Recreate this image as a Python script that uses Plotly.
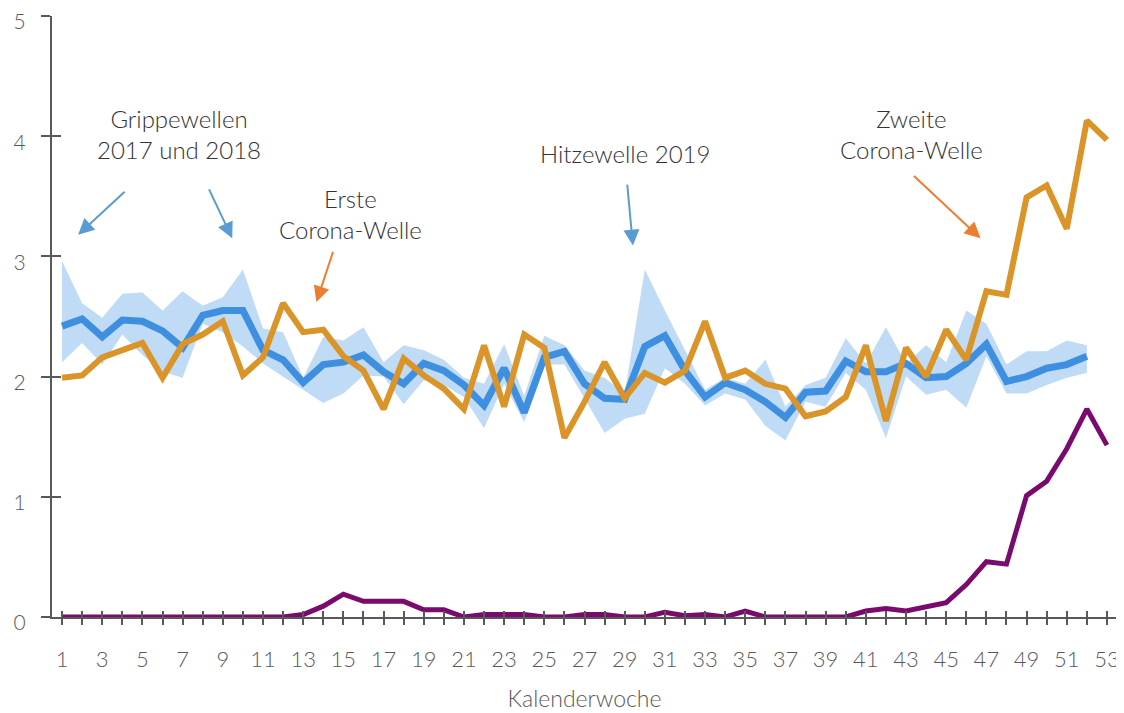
import plotly.graph_objects as go

weeks = list(range(1, 54))
weeks_hist = list(range(1, 53))

mean_hist = [2.42, 2.48, 2.33, 2.47, 2.46, 2.38, 2.24, 2.51, 2.55, 2.55,
             2.22, 2.14, 1.95, 2.10, 2.12, 2.18, 2.04, 1.94, 2.11, 2.05,
             1.93, 1.76, 2.07, 1.70, 2.16, 2.21, 1.94, 1.82, 1.81, 2.25,
             2.34, 2.05, 1.83, 1.95, 1.89, 1.79, 1.66, 1.87, 1.88, 2.13,
             2.04, 2.04, 2.11, 1.99, 2.00, 2.11, 2.27, 1.96, 2.00, 2.07,
             2.10, 2.17]
upper_hist = [2.96, 2.61, 2.49, 2.69, 2.70, 2.55, 2.71, 2.59, 2.66, 2.89,
              2.40, 2.37, 1.99, 2.33, 2.30, 2.41, 2.12, 2.26, 2.22, 2.14,
              1.99, 1.94, 2.27, 1.84, 2.34, 2.26, 2.05, 1.99, 1.86, 2.89,
              2.55, 2.22, 1.89, 1.99, 1.94, 2.14, 1.75, 1.93, 1.99, 2.32,
              2.11, 2.41, 2.11, 2.26, 2.12, 2.55, 2.44, 2.10, 2.21, 2.21,
              2.30, 2.26]
lower_hist = [2.12, 2.28, 2.10, 2.35, 2.18, 2.04, 1.99, 2.44, 2.37, 2.25,
              2.11, 2.00, 1.89, 1.78, 1.86, 2.01, 2.00, 1.77, 1.97, 1.93,
              1.83, 1.57, 1.94, 1.62, 2.10, 2.10, 1.82, 1.53, 1.65, 1.69,
              2.07, 1.94, 1.76, 1.86, 1.81, 1.59, 1.47, 1.79, 1.75, 2.03,
              1.89, 1.49, 2.00, 1.85, 1.89, 1.74, 2.17, 1.86, 1.86, 1.93,
              1.99, 2.03]
total_2020 = [1.99, 2.01, 2.16, 2.22, 2.28, 1.99, 2.27, 2.35, 2.46, 2.01,
              2.16, 2.61, 2.37, 2.39, 2.17, 2.05, 1.73, 2.15, 2.01, 1.90,
              1.73, 2.26, 1.75, 2.35, 2.24, 1.49, 1.79, 2.12, 1.82, 2.03,
              1.95, 2.05, 2.46, 1.99, 2.05, 1.94, 1.90, 1.67, 1.71, 1.83,
              2.26, 1.63, 2.24, 2.00, 2.39, 2.14, 2.71, 2.68, 3.49, 3.59,
              3.23, 4.13, 3.97]
covid_2020 = [0, 0, 0, 0, 0, 0, 0, 0, 0, 0,
              0, 0, 0.02, 0.09, 0.19, 0.13, 0.13, 0.13, 0.06, 0.06,
              0, 0.02, 0.02, 0.02, 0, 0, 0.02, 0.02, 0, 0,
              0.04, 0.01, 0.02, 0, 0.05, 0, 0, 0, 0, 0,
              0.05, 0.07, 0.05, 0.09, 0.12, 0.27, 0.46, 0.44, 1.01, 1.13,
              1.40, 1.73, 1.43]

x_ticks = weeks + [53.5]
x_ticktext = [str(w) if w % 2 == 1 else "" for w in weeks] + [""]
y_ticks = [0, 1, 2, 3, 4, 5]

FONT = "Lato"
AX = "#595959"

fig = go.Figure()
fig.add_trace(go.Scatter(x=weeks_hist, y=lower_hist, mode="lines",
                         line=dict(width=0, color="#BFDBF5"), hoverinfo="skip"))
fig.add_trace(go.Scatter(x=weeks_hist, y=upper_hist, mode="lines",
                         line=dict(width=0, color="#BFDBF5"), fill="tonexty",
                         fillcolor="#BFDBF5", hoverinfo="skip"))
fig.add_trace(go.Scatter(x=weeks_hist, y=mean_hist, mode="lines",
                         line=dict(width=7, color="#3F8FE0")))
fig.add_trace(go.Scatter(x=weeks, y=total_2020, mode="lines",
                         line=dict(width=6, color="#DA9428")))
fig.add_trace(go.Scatter(x=weeks, y=covid_2020, mode="lines",
                         line=dict(width=5, color="#7B0A6E")))
# helper traces so the overlay axes (crossing ticks) are drawn
fig.add_trace(go.Scatter(x=[1], y=[0], mode="lines", xaxis="x2", yaxis="y",
                         hoverinfo="skip"))
fig.add_trace(go.Scatter(x=[1], y=[0], mode="lines", xaxis="x", yaxis="y2",
                         hoverinfo="skip"))

# page body has an 8px margin, so the figure is sized to sit in the window
fig.update_layout(
    width=1116, height=705,
    margin=dict(l=44, r=7, t=8, b=96),
    paper_bgcolor="white", plot_bgcolor="white",
    showlegend=False,
    font=dict(family=FONT, color=AX, size=20, weight=300),
    xaxis=dict(range=[0.5, 53.5], tickvals=x_ticks, ticktext=x_ticktext,
               ticks="outside", ticklen=6, tickwidth=2, tickcolor=AX,
               showline=True, linecolor=AX, linewidth=2, showgrid=False,
               zeroline=False, ticklabelstandoff=16, automargin=False,
               ticklabeloverflow="allow",
               tickfont=dict(family=FONT, size=22, color=AX, weight=300),
               title=dict(text="Kalenderwoche", standoff=19,
                          font=dict(family=FONT, size=23, color=AX, weight=300))),
    xaxis2=dict(range=[0.5, 53.5], tickvals=x_ticks, overlaying="x", anchor="y",
                side="bottom", ticks="inside", ticklen=6, tickwidth=2,
                tickcolor=AX, showticklabels=False, showgrid=False,
                zeroline=False, showline=False, automargin=False),
    yaxis=dict(range=[0, 5], tickvals=y_ticks, ticks="outside", ticklen=9,
               tickwidth=2, tickcolor=AX, showline=True, linecolor=AX,
               linewidth=2, showgrid=False, zeroline=False, automargin=False,
               ticklabelstandoff=11, ticklabeloverflow="allow",
               ticklabelshift=6,
               tickfont=dict(family=FONT, size=21, color=AX, weight=300)),
    yaxis2=dict(range=[0, 5], tickvals=y_ticks, overlaying="y", anchor="x",
                side="left", ticks="inside", ticklen=9, tickwidth=2,
                tickcolor=AX, showticklabels=False, showgrid=False,
                zeroline=False, showline=False, automargin=False),
)

TXT = "#333333"
texts = [
    ("Grippewellen<br>2017 und 2018", 6.83, 4.02),
    ("Erste<br>Corona-Welle", 15.36, 3.35),
    ("Hitzewelle 2019", 29.0, 3.86),
    ("Zweite<br>Corona-Welle", 43.27, 4.02),
]
for t, x, y in texts:
    fig.add_annotation(text=t, x=x, y=y, xref="x", yref="y", showarrow=False,
                       font=dict(family=FONT, size=24, color=TXT, weight=300),
                       align="center")

arrows = [
    (4.19, 3.55, 1.80, 3.18, "#5B9BD5"),
    (8.28, 3.57, 9.47, 3.15, "#5B9BD5"),
    (14.51, 3.05, 13.66, 2.62, "#ED7D31"),
    (29.12, 3.61, 29.41, 3.09, "#5B9BD5"),
    (43.32, 3.68, 46.71, 3.15, "#ED7D31"),
]
for x0, y0, x1, y1, c in arrows:
    fig.add_annotation(x=x1, y=y1, ax=x0, ay=y0, xref="x", yref="y",
                       axref="x", ayref="y", text="", showarrow=True,
                       arrowhead=2, arrowsize=1.6, arrowwidth=2, arrowcolor=c)

fig.write_html("out.html")
